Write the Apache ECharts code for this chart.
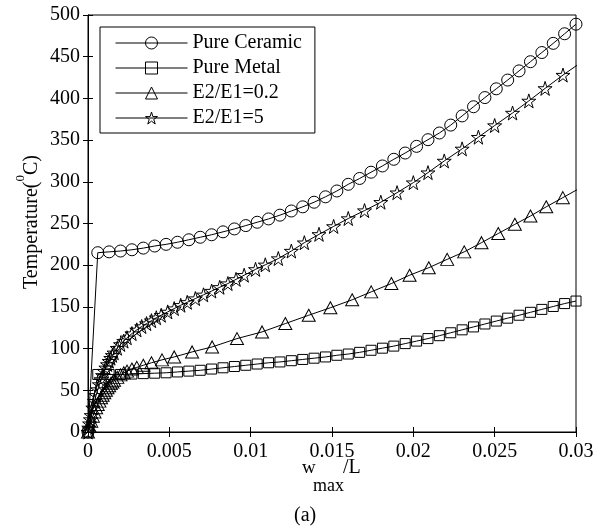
<!DOCTYPE html>
<html><head><meta charset="utf-8">
<script src="https://cdn.jsdelivr.net/npm/echarts/dist/echarts.min.js"></script>
<style>html,body{margin:0;padding:0;background:#fff}#c{width:602px;height:531px}</style>
</head><body><div id="c"></div>
<script>
const seriesNames = ['Pure Ceramic', 'Pure Metal', 'E2/E1=0.2', 'E2/E1=5'];

// Pure Ceramic and Pure Metal share the same deflection samples
const gridX = [0, 0.0006, 0.0013, 0.0020, 0.0027, 0.0034, 0.0041, 0.0048, 0.0055, 0.0062, 0.0069,
  0.0076, 0.0083, 0.0090, 0.0097, 0.0104, 0.0111, 0.0118, 0.0125, 0.0132, 0.0139, 0.0146,
  0.0153, 0.0160, 0.0167, 0.0174, 0.0181, 0.0188, 0.0195, 0.0202, 0.0209, 0.0216, 0.0223,
  0.0230, 0.0237, 0.0244, 0.0251, 0.0258, 0.0265, 0.0272, 0.0279, 0.0286, 0.0293, 0.0300];
const ceramicT = [0, 215, 216, 217, 218.5, 220.5, 223, 225, 227.5, 230.5, 233.5, 236.5, 240, 243.5,
  247.5, 251.5, 255.5, 260, 265, 270, 275.5, 282, 289, 297, 304, 311.5, 319, 327, 334.5, 342.5,
  350.5, 358.5, 368, 379, 390, 401, 411.5, 422, 433, 444, 455, 466, 477.5, 489];
const metalT = [0, 69, 69, 69, 69.5, 70, 70.5, 71, 72, 73, 74, 75.5, 77, 78.5, 80, 81.5, 83, 84,
  85.5, 87, 88.5, 90, 92, 93.5, 95.5, 98, 100.5, 103, 106, 109, 112, 115.5, 119, 122.5, 126,
  129.5, 133, 136.5, 140, 143.5, 147, 150.5, 154, 157];

const ratio02X = [0, 0.0001, 0.0002, 0.0003, 0.0004, 0.0005, 0.0006, 0.0007, 0.0008, 0.0009, 0.0010,
  0.0011, 0.0012, 0.0013, 0.0014, 0.0015, 0.0016, 0.0018, 0.0020, 0.0022, 0.0024, 0.0027, 0.0030,
  0.0034, 0.0039, 0.00455, 0.0053, 0.0064, 0.00763, 0.00916, 0.0107, 0.01213, 0.01357, 0.0149,
  0.01624, 0.01741, 0.01865, 0.01977, 0.02095, 0.02208, 0.02313, 0.02419, 0.02522, 0.02624,
  0.0272, 0.02817, 0.02919, 0.0302];
const ratio02T = [0, 7, 13, 19, 24, 29, 33, 37, 41, 44, 47, 50, 53, 55.5, 58, 60, 62, 65.5, 68.5,
  71, 73, 75.5, 77.5, 80, 83, 86.5, 90, 96, 102, 112, 120, 130, 140, 149, 158.5, 168, 178, 188,
  197, 207, 216, 227, 238, 249, 259, 270, 281, 292];

const ratio5X = [0, 0.00005, 0.0001, 0.00015, 0.0002, 0.0003, 0.0004, 0.0005, 0.0006, 0.0007,
  0.0008, 0.0009, 0.0010, 0.0011, 0.0012, 0.0013, 0.0014, 0.0015, 0.0016, 0.0018, 0.0020, 0.0022,
  0.0024, 0.0027, 0.0030, 0.0033, 0.0036, 0.0039, 0.0042, 0.0045, 0.0049, 0.0053, 0.0057, 0.0061,
  0.0066, 0.0071, 0.0076, 0.0081, 0.0086, 0.0091, 0.0096, 0.0103, 0.0109, 0.0117, 0.0125, 0.0133,
  0.0142, 0.0151, 0.0160, 0.0170, 0.0180, 0.0190, 0.0200, 0.0209, 0.0219, 0.0230, 0.0240, 0.0250,
  0.0261, 0.0271, 0.0281, 0.0292, 0.0303];
const ratio5T = [0, 5, 10, 15, 20, 29, 37, 44, 51, 57, 63, 68, 73, 77, 81, 85, 88.5, 92, 95, 100.5,
  105, 109, 113, 118, 122.5, 126.5, 130, 133.5, 137, 140, 144, 148, 152, 155.5, 160, 164.5, 169,
  173.5, 178, 183, 188, 195, 200.5, 208, 217, 227, 237, 246.5, 256, 265.5, 275.5, 287, 299, 311,
  325, 339.5, 353.5, 367.5, 382.5, 397, 412, 428, 443];

const xMin = 0, xMax = 0.03, xStep = 0.005;
const yMin = 0, yMax = 500, yStep = 50;

const FONT = '"Liberation Serif", "Times New Roman", serif';
const STAR = 'path://M50,2 L61.2,36.6 L97.6,36.6 L68.2,58 L79.4,92.6 L50,71.2 L20.6,92.6 L31.8,58 L2.4,36.6 L38.8,36.6 Z';

const zip = (xs, ys) => xs.map((x, i) => [x, ys[i]]);

function mkSeries(name, data, symbol, size) {
  return {
    name, type: 'line', data, symbol, symbolSize: size, showSymbol: true,
    clip: true, animation: false, z: 3,
    lineStyle: { color: '#000', width: 1 },
    itemStyle: { color: 'rgba(0,0,0,0)', borderColor: '#000', borderWidth: 1 },
    emphasis: { disabled: true }
  };
}

const baseX = {
  type: 'value', min: xMin, max: xMax, interval: xStep,
  axisLine: { show: true, lineStyle: { color: '#000', width: 1 } },
  axisTick: { show: true, inside: true, length: 5, lineStyle: { color: '#000' } },
  splitLine: { show: false }
};
const baseY = {
  type: 'value', min: yMin, max: yMax, interval: yStep,
  axisLine: { show: true, lineStyle: { color: '#000', width: 1 } },
  axisTick: { show: true, inside: true, length: 5, lineStyle: { color: '#000' } },
  splitLine: { show: false }
};

const chart = echarts.init(document.getElementById('c'), null, { renderer: 'canvas' });
chart.setOption({
  backgroundColor: '#fff',
  animation: false,
  grid: { left: 88, right: 26, top: 15, bottom: 99, show: true, borderColor: '#000', borderWidth: 1, backgroundColor: 'transparent' },
  xAxis: [
    Object.assign({}, baseX, { position: 'bottom',
      axisLabel: { show: true, margin: 10, fontFamily: FONT, fontSize: 20, color: '#000',
        formatter: v => String(+v.toFixed(3)) } }),
    Object.assign({}, baseX, { position: 'top', axisLabel: { show: false } })
  ],
  yAxis: [
    Object.assign({}, baseY, { position: 'left',
      axisLabel: { show: true, margin: 8, fontFamily: FONT, fontSize: 20, color: '#000' } }),
    Object.assign({}, baseY, { position: 'right', axisLabel: { show: false } })
  ],
  legend: {
    orient: 'vertical', left: 100, top: 27, padding: [6, 13, 5, 15], itemGap: 5,
    itemWidth: 72, itemHeight: 15, borderColor: '#000', borderWidth: 1, borderRadius: 0,
    backgroundColor: '#fff', selectedMode: false,
    itemStyle: { color: 'rgba(0,0,0,0)', borderColor: '#000', borderWidth: 1 },
    lineStyle: { color: '#000', width: 1 },
    textStyle: { fontFamily: FONT, fontSize: 20, color: '#000' },
    data: seriesNames
  },
  series: [
    mkSeries(seriesNames[0], zip(gridX, ceramicT), 'circle', 12),
    mkSeries(seriesNames[1], zip(gridX, metalT), 'rect', 10),
    mkSeries(seriesNames[2], zip(ratio02X, ratio02T), 'triangle', [13, 12]),
    mkSeries(seriesNames[3], zip(ratio5X, ratio5T), STAR, 14)
  ],
  graphic: [
    { type: 'text', left: 302, top: 459, style: { text: 'w', fontFamily: FONT, fontSize: 19, fill: '#000' } },
    { type: 'text', left: 313, top: 477, style: { text: 'max', fontFamily: FONT, fontSize: 18, fill: '#000' } },
    { type: 'text', left: 343, top: 458, style: { text: '/L', fontFamily: FONT, fontSize: 20, fill: '#000' } },
    { type: 'text', left: 294, top: 506, style: { text: '(a)', fontFamily: FONT, fontSize: 20, fill: '#000' } },
    { type: 'text', x: 28, y: 222, rotation: Math.PI / 2,
      style: { text: '{a|Temperature(}{s|0}{a|C)}', align: 'center', verticalAlign: 'middle',
        rich: { a: { fontFamily: FONT, fontSize: 20, lineHeight: 28, verticalAlign: 'bottom', fill: '#000' },
                s: { fontFamily: FONT, fontSize: 13, lineHeight: 13, verticalAlign: 'top', fill: '#000' } } } }
  ]
});
</script></body></html>
